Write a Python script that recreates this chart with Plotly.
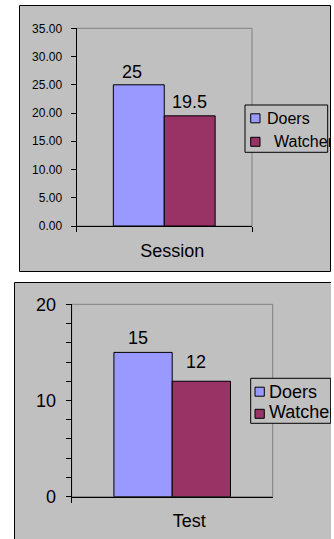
import plotly.graph_objects as go

# ---------------- data ----------------
series_names = ["Doers", "Watchers"]
top_categories = ["Session"]
top_doers = [25]
top_watchers = [19.5]
bottom_categories = ["Test"]
bottom_doers = [15]
bottom_watchers = [12]
top_y_range = [0, 35]
bottom_y_range = [0, 20]

# ---------------- style ----------------
W, H = 331, 539
FONT = "Arial, Liberation Sans, sans-serif"
COL_DOERS = "#9999FF"
COL_WATCH = "#993366"
GREY_BG = "#C0C0C0"
colors = [COL_DOERS, COL_WATCH]


def px(x):
    return x / W


def py(y):
    return 1 - y / H


fig = go.Figure()

for vals, name, col in zip([top_doers, top_watchers], series_names, colors):
    fig.add_trace(go.Bar(x=top_categories, y=vals, name=name, marker_color=col,
                         marker_line=dict(color="black", width=1),
                         xaxis="x", yaxis="y", showlegend=False, hoverinfo="skip"))
for vals, name, col in zip([bottom_doers, bottom_watchers], series_names, colors):
    fig.add_trace(go.Bar(x=bottom_categories, y=vals, name=name, marker_color=col,
                         marker_line=dict(color="black", width=1),
                         xaxis="x2", yaxis="y2", showlegend=False, hoverinfo="skip"))

axis_common = dict(showline=True, linecolor="black", linewidth=1, ticks="outside",
                   ticklen=5, tickcolor="black", showgrid=False, zeroline=False,
                   fixedrange=True)

fig.update_layout(
    width=W, height=H,
    margin=dict(l=0, r=0, t=0, b=0, autoexpand=False),
    paper_bgcolor="white", plot_bgcolor="rgba(0,0,0,0)",
    font=dict(family=FONT, color="black"),
    barmode="group", bargap=0.42, bargroupgap=0,
    showlegend=False,
    xaxis=dict(axis_common, domain=[px(76.5), px(252)], anchor="y",
               tickson="boundaries", range=[-0.5, 0.5],
               tickfont=dict(size=18), ticklabelshift=8, ticklabelstandoff=8),
    yaxis=dict(axis_common, domain=[py(226), py(28.3)], anchor="x",
               range=top_y_range, dtick=5, tickformat=".2f",
               tickfont=dict(size=12), ticklabelstandoff=6),
    xaxis2=dict(axis_common, domain=[px(71.7), px(272.7)], anchor="y2",
                tickson="boundaries", range=[-0.5, 0.5],
                tickfont=dict(size=18), ticklabelshift=17, ticklabelstandoff=8),
    yaxis2=dict(axis_common, domain=[py(496.7), py(304.3)], anchor="x2",
                range=bottom_y_range, dtick=10,
                tickfont=dict(size=18), ticklabelstandoff=6,
                minor=dict(dtick=2, ticks="outside", ticklen=5, tickcolor="black")),
)

shapes = []
# outer chart boxes
shapes.append(dict(type="rect", xref="paper", yref="paper", layer="below",
                   x0=px(19.5), x1=px(330.5), y0=py(271.5), y1=py(5.5),
                   fillcolor=GREY_BG, line=dict(color="black", width=1)))
shapes.append(dict(type="rect", xref="paper", yref="paper", layer="below",
                   x0=px(14.5), x1=px(W + 10), y0=py(H + 10), y1=py(282.5),
                   fillcolor=GREY_BG, line=dict(color="black", width=1)))
# grey plot-area frames
for xa, ya in [("x", "y"), ("x2", "y2")]:
    shapes.append(dict(type="rect", xref=f"{xa} domain", yref=f"{ya} domain",
                       layer="below", x0=0, x1=1, y0=0, y1=1,
                       line=dict(color="#808080", width=1)))

# legends (box, symbols, labels)
legend_specs = [
    dict(box=(245, 327.7, 105, 152.3), sym_x=(250.7, 260), sym_y=[118.3, 141.8],
         text_x=[265.7, 272.7], text_y=[119, 141], size=16),
    dict(box=(250.7, 330.7, 378.3, 423.3), sym_x=(255, 264.3), sym_y=[391.7, 413.8],
         text_x=[267.7, 267.7], text_y=[391.7, 412], size=18),
]
annotations = []
for spec in legend_specs:
    bx0, bx1, by0, by1 = spec["box"]
    shapes.append(dict(type="rect", xref="paper", yref="paper", layer="above",
                       x0=px(bx0), x1=px(bx1), y0=py(by1), y1=py(by0),
                       fillcolor=GREY_BG, line=dict(color="black", width=1)))
    for name, col, sy, tx, ty in zip(series_names, colors, spec["sym_y"],
                                     spec["text_x"], spec["text_y"]):
        shapes.append(dict(type="rect", xref="paper", yref="paper", layer="above",
                           x0=px(spec["sym_x"][0]), x1=px(spec["sym_x"][1]),
                           y0=py(sy + 4.5), y1=py(sy - 4.5),
                           fillcolor=col, line=dict(color="black", width=1)))
        annotations.append(dict(text=name, xref="paper", yref="paper",
                                x=px(tx), y=py(ty), xanchor="left", yanchor="middle",
                                showarrow=False, borderpad=0,
                                font=dict(size=spec["size"], family=FONT, color="black")))

# value labels above bars
bar_offset = 0.145  # centre of each bar within the group (category units)
label_shifts = {  # (xshift, yshift) in px, per subplot & series
    ("x", 0): (-7, 2), ("x", 1): (0, 2.5),
    ("x2", 0): (-5, 3.5), ("x2", 1): (-5, 8.5),
}
for xa, ya, d_vals, w_vals in [("x", "y", top_doers, top_watchers),
                               ("x2", "y2", bottom_doers, bottom_watchers)]:
    for si, vals in enumerate([d_vals, w_vals]):
        for ci, v in enumerate(vals):
            xs, ys = label_shifts[(xa, si)]
            annotations.append(dict(text=f"{v:g}", xref=xa, yref=ya,
                                    x=ci + (-bar_offset if si == 0 else bar_offset), y=v,
                                    xanchor="center", yanchor="bottom",
                                    xshift=xs, yshift=ys, showarrow=False, borderpad=0,
                                    font=dict(size=18, family=FONT, color="black")))

fig.update_layout(shapes=shapes, annotations=annotations)
fig.write_html("out.html", config={"displayModeBar": False})
